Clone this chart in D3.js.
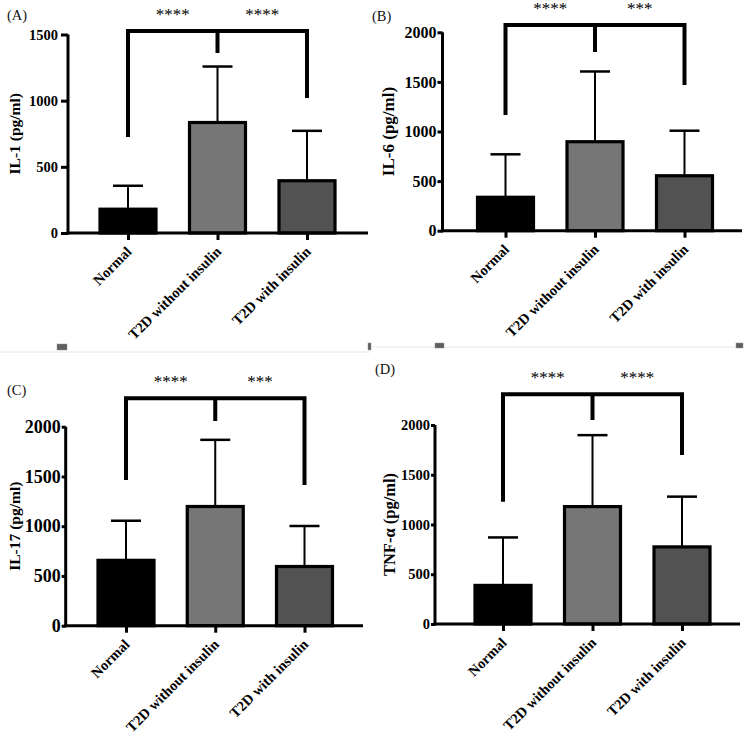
<!DOCTYPE html>
<html>
<head>
<meta charset="utf-8">
<script src="https://cdn.jsdelivr.net/npm/d3@7"></script>
<style>
  html, body { margin: 0; padding: 0; background: #fff; }
  svg { display: block; }
  text { font-family: "Liberation Serif", "Times New Roman", serif; }
</style>
</head>
<body>
<svg id="chart" width="747" height="739"></svg>
<script>
// ---------------- data ----------------
const categories = ["Normal", "T2D without insulin", "T2D with insulin"];
const barColors = ["#000000", "#767676", "#525252"];

const il1Mean = [180, 835, 395];
const il1SD = [177, 423, 377];
const il6Mean = [337, 897, 554];
const il6SD = [433, 708, 454];
const il17Mean = [657, 1198, 595];
const il17SD = [398, 670, 407];
const tnfMean = [388, 1180, 775];
const tnfSD = [482, 718, 505];

const ticksA = [0, 500, 1000, 1500];
const ticksBCD = [0, 500, 1000, 1500, 2000];

// significance brackets (value units): [top, leftDrop, middleDrop, rightDrop]
const bracketA = [1526, 725, 1360, 1020];
const bracketB = [2074, 1166, 1801, 1469];
const bracketC = [2285, 1464, 2058, 1414];
const bracketD = [2309, 1229, 2050, 1698];
const starsA = ["****", "****"];
const starsB = ["****", "***"];
const starsC = ["****", "***"];
const starsD = ["****", "****"];

// ---------------- layout ----------------
const panels = [
  { tag: "(A)", tagX: 7, tagY: 20, label: "IL-1 (pg/ml)", mean: il1Mean, sd: il1SD, ticks: ticksA, max: 1500,
    axisX: 68, axisEnd: 368, y0: 233, yTop: 34.5, c0: 128, c2: 307, labelX: 14, tickFont: 14.5, labelFont: 15.5,
    tickSize: 7, tickPad: 3, bracket: bracketA, stars: starsA },
  { tag: "(B)", tagX: 372, tagY: 21, label: "IL-6 (pg/ml)", mean: il6Mean, sd: il6SD, ticks: ticksBCD, max: 2000,
    axisX: 442.5, axisEnd: 742, y0: 230.7, yTop: 32.3, c0: 505.5, c2: 684.5, labelX: 388, tickFont: 16, labelFont: 17,
    tickSize: 5, tickPad: 1, bracket: bracketB, stars: starsB },
  { tag: "(C)", tagX: 7, tagY: 395, label: "IL-17 (pg/ml)", mean: il17Mean, sd: il17SD, ticks: ticksBCD, max: 2000,
    axisX: 65.7, axisEnd: 363, y0: 625.7, yTop: 426.7, c0: 126, c2: 304.5, labelX: 14, tickFont: 18, labelFont: 15.5,
    tickSize: 4, tickPad: 1, bracket: bracketC, stars: starsC },
  { tag: "(D)", tagX: 375, tagY: 374, label: "TNF-α (pg/ml)", mean: tnfMean, sd: tnfSD, ticks: ticksBCD, max: 2000,
    axisX: 435, axisEnd: 740, y0: 624, yTop: 425, c0: 503, c2: 682, labelX: 389, tickFont: 14.5, labelFont: 16.5,
    tickSize: 4, tickPad: 1, bracket: bracketD, stars: starsD }
];

const svg = d3.select("#chart");

// faint separators and small grey marks from the source figure
svg.append("line").attr("x1", 0).attr("x2", 370).attr("y1", 352).attr("y2", 352)
  .attr("stroke", "#e6e6e6").attr("stroke-width", 1);
svg.append("line").attr("x1", 370).attr("x2", 735).attr("y1", 347).attr("y2", 347)
  .attr("stroke", "#e6e6e6").attr("stroke-width", 1);
[[57, 344, 10, 6], [368, 343, 3, 7], [435, 343, 9, 5], [736, 343, 7, 5]].forEach(r => {
  svg.append("rect").attr("x", r[0]).attr("y", r[1]).attr("width", r[2]).attr("height", r[3])
    .attr("fill", "#5e5e5e").attr("stroke", "#999").attr("stroke-width", 0.5);
});

panels.forEach(p => {
  const g = svg.append("g");
  const y = d3.scaleLinear().domain([0, p.max]).range([p.y0, p.yTop]);
  const x = d3.scalePoint().domain(categories).range([p.c0, p.c2]);
  const barW = 56;
  const capW = 30;

  // panel tag
  g.append("text").attr("x", p.tagX).attr("y", p.tagY).attr("font-size", 14.5).attr("fill", "#111")
    .text(p.tag);

  // bars
  g.selectAll("rect.bar").data(categories).enter().append("rect")
    .attr("class", "bar")
    .attr("x", d => x(d) - barW / 2)
    .attr("y", (d, i) => y(p.mean[i]))
    .attr("width", barW)
    .attr("height", (d, i) => p.y0 - y(p.mean[i]))
    .attr("fill", (d, i) => barColors[i])
    .attr("stroke", "#000").attr("stroke-width", 3.2);

  // error bars
  categories.forEach((c, i) => {
    const top = y(p.mean[i] + p.sd[i]);
    g.append("line").attr("x1", x(c)).attr("x2", x(c)).attr("y1", y(p.mean[i])).attr("y2", top)
      .attr("stroke", "#000").attr("stroke-width", 2);
    g.append("line").attr("x1", x(c) - capW / 2).attr("x2", x(c) + capW / 2).attr("y1", top).attr("y2", top)
      .attr("stroke", "#000").attr("stroke-width", 2.5);
  });

  // y axis
  const yAxis = d3.axisLeft(y).tickValues(p.ticks).tickSize(p.tickSize).tickPadding(p.tickPad)
    .tickFormat(d3.format("d"));
  const ya = g.append("g").attr("transform", `translate(${p.axisX},0)`).call(yAxis);
  ya.select(".domain").attr("stroke", "#000").attr("stroke-width", 3)
    .attr("d", `M0,${p.y0 + 1.5}V${p.yTop}`);
  ya.selectAll(".tick line").attr("stroke", "#000").attr("stroke-width", 3);
  ya.selectAll(".tick text").attr("font-size", p.tickFont).attr("font-weight", "bold")
    .attr("font-family", '"Liberation Serif", "Times New Roman", serif').attr("fill", "#000");

  // x axis
  const xAxis = d3.axisBottom(x).tickSize(7).tickFormat("");
  const xa = g.append("g").attr("transform", `translate(0,${p.y0})`).call(xAxis);
  xa.select(".domain").attr("stroke", "#000").attr("stroke-width", 3)
    .attr("d", `M${p.axisX - 1.5},0H${p.axisEnd}`);
  xa.selectAll(".tick line").attr("stroke", "#000").attr("stroke-width", 3);

  // x labels rotated
  g.selectAll("text.xl").data(categories).enter().append("text")
    .attr("class", "xl")
    .attr("transform", d => `translate(${x(d) + 1},${p.y0 + 16}) rotate(-45)`)
    .attr("text-anchor", "end")
    .attr("dy", "0.35em")
    .attr("font-size", 14.5).attr("font-weight", "bold").attr("fill", "#000")
    .text(d => d);

  // y label
  g.append("text")
    .attr("transform", `translate(${p.labelX},${(p.y0 + p.yTop) / 2}) rotate(-90)`)
    .attr("text-anchor", "middle").attr("dominant-baseline", "central")
    .attr("font-size", p.labelFont).attr("font-weight", "bold").attr("fill", "#000")
    .text(p.label);

  // significance bracket
  const [bt, bl, bm, br] = p.bracket;
  const xl = x(categories[0]), xm = x(categories[1]), xr = x(categories[2]);
  const bp = d3.path();
  bp.moveTo(xl, y(bl)); bp.lineTo(xl, y(bt)); bp.lineTo(xr, y(bt)); bp.lineTo(xr, y(br));
  bp.moveTo(xm, y(bt)); bp.lineTo(xm, y(bm));
  g.append("path").attr("d", bp.toString()).attr("fill", "none")
    .attr("stroke", "#000").attr("stroke-width", 4).attr("stroke-linejoin", "miter");

  // stars
  const starX = [(xl + xm) / 2, (xm + xr) / 2];
  p.stars.forEach((s, i) => {
    g.append("text").attr("x", starX[i]).attr("y", y(bt) - 11)
      .attr("text-anchor", "middle").attr("font-size", 17).attr("fill", "#000")
      .text(s);
  });
});
</script>
</body>
</html>
